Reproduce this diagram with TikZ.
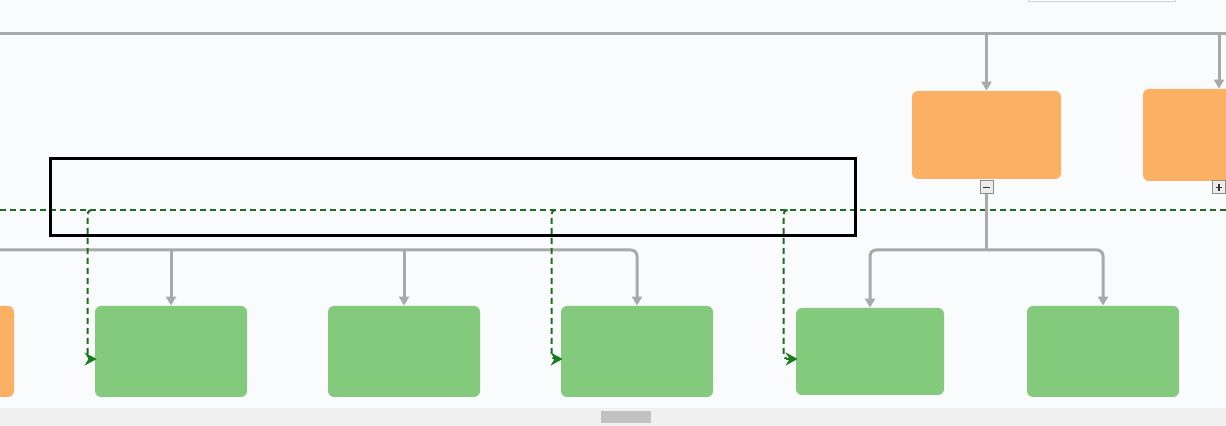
\documentclass[tikz,border=0pt]{standalone}
\usetikzlibrary{arrows.meta, positioning, calc}
\definecolor{pagebg}{RGB}{250, 251, 253}
\definecolor{linkgray}{RGB}{169, 169, 169}
\definecolor{leaforange}{RGB}{251, 176, 100}
\definecolor{leafgreen}{RGB}{132, 202, 124}
\definecolor{flowgreen}{RGB}{30, 108, 30}
\definecolor{tipgreen}{RGB}{24, 124, 24}
\definecolor{barfill}{RGB}{240, 240, 240}
\definecolor{thumbfill}{RGB}{193, 193, 193}
\definecolor{togglefill}{RGB}{236, 236, 236}
\tikzset{
    orangebox/.style={fill=leaforange, rounded corners=3pt,
        minimum width=74.5pt, minimum height=44pt, inner sep=0pt},
    greenbox/.style={fill=leafgreen, rounded corners=3pt,
        minimum width=76pt, minimum height=45.5pt, inner sep=0pt},
    selbox/.style={draw=black, line width=1.5pt,
        minimum width=402.5pt, minimum height=38.5pt, inner sep=0pt},
    bus/.style={draw=linkgray, line width=1.5pt},
    link/.style={bus, -{Triangle[length=4.5pt, width=5pt]}},
    rule/.style={draw=flowgreen, line width=1pt, dash pattern=on 3pt off 2pt},
    flow/.style={rule, -{Stealth[length=6pt, width=6.5pt, inset=2pt,
        color=tipgreen]}},
    togglebox/.style={draw=black!45, fill=togglefill, line width=0.5pt,
        minimum size=6.5pt, inner sep=0pt},
    minusbox/.style={togglebox, path picture={
        \draw[line width=0.9pt, black!80]
            ([xshift=-1.7pt]path picture bounding box.center)
            -- ([xshift=1.7pt]path picture bounding box.center);}},
    plusbox/.style={togglebox, path picture={
        \draw[line width=0.9pt, black!80]
            ([xshift=-1.7pt]path picture bounding box.center)
            -- ([xshift=1.7pt]path picture bounding box.center);
        \draw[line width=0.9pt, black!80]
            ([yshift=-1.7pt]path picture bounding box.center)
            -- ([yshift=1.7pt]path picture bounding box.center);}},
}

\begin{document}
\begin{tikzpicture}[x=0.5pt, y=-0.5pt]
    \useasboundingbox (0, 0) rectangle (1226, 426);
    \clip (0, 0) rectangle (1226, 426);
    \fill[pagebg] (0, 0) rectangle (1226, 426);
    \fill[barfill] (0, 408) rectangle (1226, 426);
    \node[fill=thumbfill, minimum width=25pt, minimum height=6pt,
        inner sep=0pt] (thumb) at (626, 417) {};
    \node[fill=white, draw=black!18, minimum width=73.5pt,
        minimum height=11pt, inner sep=0pt] (tools) at (1101.5, -10) {};
    \coordinate (topL) at (0, 34);
    \coordinate (topR) at (1226, 34);
    \coordinate (busL) at (0, 250);
    \coordinate (dashL) at (0, 210);
    \coordinate (dashR) at (1226, 210);
    \node[orangebox] (mgr) at (986.5, 135) {};
    \node[orangebox, minimum width=76pt, minimum height=46pt] (mgrB)
        at (1219, 135) {};
    \node[orangebox, minimum width=76pt, minimum height=45.5pt] (mgrA)
        at (-62, 351.5) {};
    \node[greenbox] (staffA) at (171, 351.5) {};
    \node[greenbox] (staffB) at (404, 351.5) {};
    \node[greenbox] (staffC) at (637, 351.5) {};
    \node[greenbox, minimum width=74pt, minimum height=43.5pt] (staffD)
        at (870, 351.5) {};
    \node[greenbox] (staffE) at (1103, 351.5) {};
    \draw[rule] (dashL) -- (dashR);
    \node[minusbox] (minus) at (986.5, 187.5) {};
    \node[plusbox] (plus) at (1219, 187.5) {};
    \draw[bus] (topL) -- (topR);
    \draw[link] (mgr.north |- topL) -- (mgr.north);
    \draw[link] (mgrB.north |- topL) -- (mgrB.north);
    \draw[bus] (minus.south) -- (minus.south |- busL);
    \draw[link, rounded corners=3pt] (minus.south |- busL) -| (staffD.north);
    \draw[link, rounded corners=3pt] (minus.south |- busL) -| (staffE.north);
    \draw[link, rounded corners=3pt] (busL) -| (staffC.north);
    \draw[link] (staffA.north |- busL) -- (staffA.north);
    \draw[link] (staffB.north |- busL) -- (staffB.north);
    \foreach \staff/\gap in {staffA/3.5pt, staffC/4.5pt, staffD/6pt}
        \draw[flow, rounded corners=2pt] ([xshift=-\gap+2pt]\staff.west |- dashL)
            -| ([xshift=-\gap, yshift=-3.75pt]\staff.west)
            -- ([xshift=1pt, yshift=-3.75pt]\staff.west);
    \node[selbox] (sel) at (452.5, 197.5) {};
\end{tikzpicture}
\end{document}
